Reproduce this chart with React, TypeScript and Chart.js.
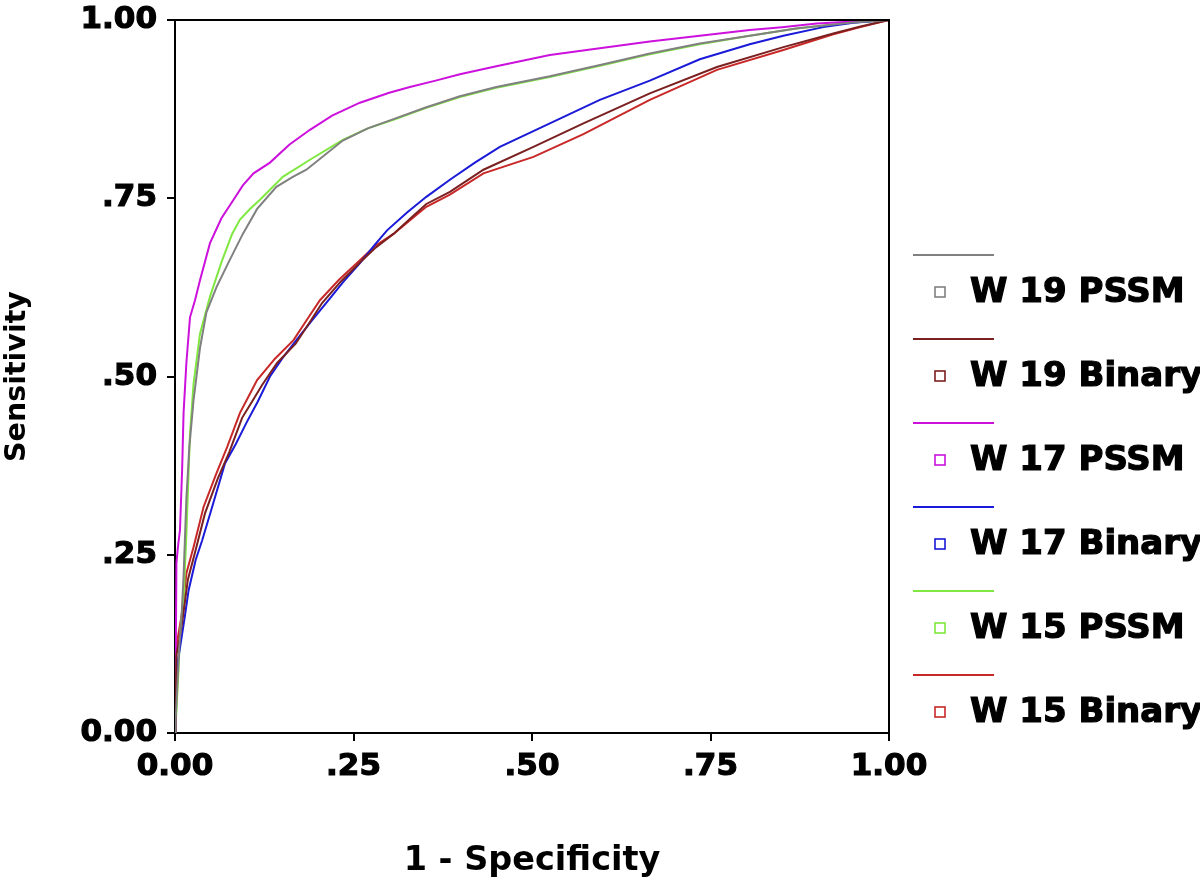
import React, { useEffect, useRef } from "react";
import { Chart, registerables } from "chart.js";

Chart.register(...registerables);

const xTickLabels = ["0.00", ".25", ".50", ".75", "1.00"];
const yTickLabels = ["0.00", ".25", ".50", ".75", "1.00"];

const seriesNames = ["W 19 PSSM", "W 19 Binary", "W 17 PSSM", "W 17 Binary", "W 15 PSSM", "W 15 Binary"];
const seriesColors = ["#808080", "#7b2020", "#cc11dd", "#1a1ad8", "#80e840", "#c82828"];

// W 19 PSSM
const w19PssmX = [0, 0.001, 0.003, 0.006, 0.009, 0.012, 0.016, 0.020, 0.026, 0.035, 0.044, 0.058, 0.075, 0.095, 0.115, 0.142, 0.165, 0.184, 0.235, 0.27, 0.306, 0.35, 0.399, 0.45, 0.525, 0.60, 0.665, 0.735, 0.805, 0.87, 0.945, 1];
const w19PssmY = [0, 0.02, 0.06, 0.12, 0.16, 0.22, 0.33, 0.40, 0.467, 0.54, 0.59, 0.625, 0.66, 0.70, 0.735, 0.766, 0.78, 0.79, 0.831, 0.848, 0.861, 0.877, 0.893, 0.906, 0.921, 0.938, 0.953, 0.967, 0.978, 0.988, 0.996, 1];

// W 19 Binary
const w19BinX = [0, 0.001, 0.002, 0.006, 0.010, 0.018, 0.028, 0.042, 0.060, 0.076, 0.094, 0.108, 0.122, 0.143, 0.169, 0.188, 0.206, 0.232, 0.259, 0.28, 0.306, 0.33, 0.352, 0.385, 0.432, 0.502, 0.572, 0.665, 0.759, 0.852, 0.922, 0.96, 1];
const w19BinY = [0, 0.04, 0.11, 0.13, 0.155, 0.215, 0.253, 0.308, 0.357, 0.394, 0.442, 0.465, 0.488, 0.519, 0.546, 0.575, 0.603, 0.633, 0.66, 0.68, 0.70, 0.722, 0.742, 0.759, 0.79, 0.822, 0.855, 0.897, 0.934, 0.962, 0.981, 0.991, 1];

// W 17 PSSM
const w17PssmX = [0, 0.001, 0.002, 0.004, 0.007, 0.010, 0.012, 0.016, 0.021, 0.028, 0.035, 0.049, 0.065, 0.082, 0.095, 0.110, 0.133, 0.160, 0.189, 0.220, 0.259, 0.300, 0.329, 0.365, 0.399, 0.45, 0.525, 0.60, 0.665, 0.735, 0.805, 0.85, 0.899, 0.95, 1];
const w17PssmY = [0, 0.10, 0.238, 0.26, 0.285, 0.37, 0.449, 0.52, 0.583, 0.607, 0.635, 0.687, 0.722, 0.748, 0.768, 0.785, 0.80, 0.825, 0.846, 0.866, 0.884, 0.898, 0.906, 0.915, 0.924, 0.935, 0.951, 0.961, 0.970, 0.978, 0.986, 0.990, 0.995, 0.998, 1];

// W 17 Binary
const w17BinX = [0, 0.001, 0.002, 0.004, 0.008, 0.014, 0.019, 0.029, 0.038, 0.052, 0.070, 0.085, 0.100, 0.116, 0.133, 0.150, 0.170, 0.193, 0.215, 0.236, 0.259, 0.28, 0.297, 0.325, 0.352, 0.385, 0.42, 0.455, 0.525, 0.595, 0.665, 0.735, 0.805, 0.852, 0.908, 0.95, 1];
const w17BinY = [0, 0.03, 0.079, 0.10, 0.126, 0.165, 0.20, 0.243, 0.27, 0.317, 0.378, 0.405, 0.435, 0.465, 0.50, 0.525, 0.551, 0.58, 0.607, 0.633, 0.659, 0.685, 0.705, 0.73, 0.752, 0.776, 0.80, 0.822, 0.855, 0.888, 0.915, 0.945, 0.966, 0.978, 0.99, 0.996, 1];

// W 15 PSSM
const w15PssmX = [0, 0.001, 0.002, 0.005, 0.007, 0.010, 0.012, 0.016, 0.021, 0.026, 0.035, 0.049, 0.065, 0.080, 0.091, 0.105, 0.119, 0.151, 0.189, 0.235, 0.27, 0.306, 0.35, 0.399, 0.45, 0.525, 0.60, 0.665, 0.735, 0.805, 0.87, 0.945, 1];
const w15PssmY = [0, 0.01, 0.032, 0.09, 0.14, 0.17, 0.187, 0.28, 0.42, 0.49, 0.56, 0.612, 0.66, 0.70, 0.72, 0.735, 0.748, 0.78, 0.804, 0.832, 0.848, 0.86, 0.876, 0.892, 0.905, 0.92, 0.937, 0.952, 0.966, 0.978, 0.988, 0.996, 1];

// W 15 Binary
const w15BinX = [0, 0.001, 0.002, 0.005, 0.009, 0.016, 0.026, 0.040, 0.058, 0.073, 0.091, 0.103, 0.115, 0.14, 0.166, 0.185, 0.203, 0.23, 0.259, 0.28, 0.306, 0.33, 0.352, 0.385, 0.432, 0.502, 0.572, 0.665, 0.759, 0.852, 0.922, 0.96, 1];
const w15BinY = [0, 0.05, 0.121, 0.14, 0.163, 0.224, 0.261, 0.317, 0.364, 0.401, 0.449, 0.472, 0.495, 0.525, 0.551, 0.58, 0.607, 0.636, 0.663, 0.683, 0.70, 0.72, 0.738, 0.755, 0.785, 0.808, 0.84, 0.888, 0.93, 0.958, 0.98, 0.99, 1];

const seriesX = [w19PssmX, w19BinX, w17PssmX, w17BinX, w15PssmX, w15BinX];
const seriesY = [w19PssmY, w19BinY, w17PssmY, w17BinY, w15PssmY, w15BinY];

const FONT = "'DejaVu Sans', 'Liberation Sans', Arial, sans-serif";

const framePlugin = {
  id: "frame",
  afterDatasetsDraw(chart: any) {
    const { ctx, chartArea } = chart;
    ctx.save();
    ctx.strokeStyle = "#000";
    ctx.lineWidth = 2;
    ctx.beginPath();
    ctx.moveTo(chartArea.left, chartArea.top);
    ctx.lineTo(chartArea.right, chartArea.top);
    ctx.lineTo(chartArea.right, chartArea.bottom);
    ctx.stroke();
    ctx.restore();
  },
};

const sideLegendPlugin = {
  id: "sideLegend",
  afterDraw(chart: any) {
    const { ctx } = chart;
    const ds = chart.data.datasets;
    ctx.save();
    ds.forEach((d: any, i: number) => {
      const ly = 255 + i * 84;
      ctx.strokeStyle = d.borderColor;
      ctx.lineWidth = 2;
      ctx.beginPath();
      ctx.moveTo(913, ly);
      ctx.lineTo(994, ly);
      ctx.stroke();
      const cy = ly + 37;
      ctx.lineWidth = 1.6;
      ctx.fillStyle = "#fff";
      ctx.fillRect(935, cy - 5, 10, 10);
      ctx.strokeRect(935, cy - 5, 10, 10);
      ctx.fillStyle = "#000";
      ctx.strokeStyle = "#000";
      ctx.lineWidth = 1.2;
      ctx.font = `bold 34px ${FONT}`;
      ctx.textBaseline = "middle";
      ctx.textAlign = "left";
      ctx.fillText(d.label, 970, cy + 1);
      ctx.strokeText(d.label, 970, cy + 1);
    });
    ctx.restore();
  },
};

export default function App() {
  const ref = useRef<HTMLCanvasElement | null>(null);
  useEffect(() => {
    if (!ref.current) return;
    const datasets = seriesNames.map((name, i) => ({
      label: name,
      data: seriesX[i].map((x, j) => ({ x, y: seriesY[i][j] })),
      borderColor: seriesColors[i],
      backgroundColor: seriesColors[i],
      borderWidth: 2,
      pointRadius: 0,
      showLine: true,
      tension: 0,
      fill: false,
    }));
    const axisCommon = {
      type: "linear" as const,
      min: 0,
      max: 1,
      grid: {
        display: true,
        drawOnChartArea: false,
        drawTicks: true,
        tickLength: 8,
        color: "#000",
        lineWidth: 2,
      },
      border: { display: true, color: "#000", width: 2 },
    };
    const chart = new Chart(ref.current, {
      type: "scatter",
      data: { datasets },
      plugins: [framePlugin, sideLegendPlugin],
      options: {
        animation: false,
        responsive: false,
        devicePixelRatio: 1,
        layout: { padding: { left: 0, top: 20, right: 311, bottom: 0 } },
        plugins: { legend: { display: false }, tooltip: { enabled: false } },
        scales: {
          x: {
            ...axisCommon,
            ticks: {
              stepSize: 0.25,
              color: "#000",
              padding: 7,
              maxRotation: 0,
              textStrokeColor: "#000",
              textStrokeWidth: 1.2,
              font: { family: FONT, weight: "bold", size: 31 },
              callback: (_v: any, idx: number) => xTickLabels[idx],
            },
            title: {
              display: true,
              text: "1 - Specificity",
              color: "#000",
              font: { family: FONT, weight: "bold", size: 33.5 },
              padding: { top: 0, bottom: 0 },
            },
            afterFit: (scale: any) => {
              scale.height = 148;
              scale.paddingLeft = 0;
              scale.paddingRight = 0;
            },
          },
          y: {
            ...axisCommon,
            ticks: {
              stepSize: 0.25,
              color: "#000",
              padding: 10,
              textStrokeColor: "#000",
              textStrokeWidth: 1.2,
              font: { family: FONT, weight: "bold", size: 31 },
              callback: (_v: any, idx: number) => yTickLabels[idx],
            },
            title: {
              display: true,
              text: "Sensitivity",
              color: "#000",
              font: { family: FONT, weight: "bold", size: 28.5 },
              padding: { top: 0, bottom: 0 },
            },
            afterFit: (scale: any) => {
              scale.width = 175;
              scale.paddingTop = 0;
              scale.paddingBottom = 0;
            },
          },
        },
      } as any,
    });
    return () => chart.destroy();
  }, []);
  return (
    <div style={{ position: "fixed", left: 0, top: 0, width: 1200, height: 881, background: "#fff" }}>
      <canvas ref={ref} width={1200} height={881} style={{ display: "block", width: 1200, height: 881 }} />
    </div>
  );
}
